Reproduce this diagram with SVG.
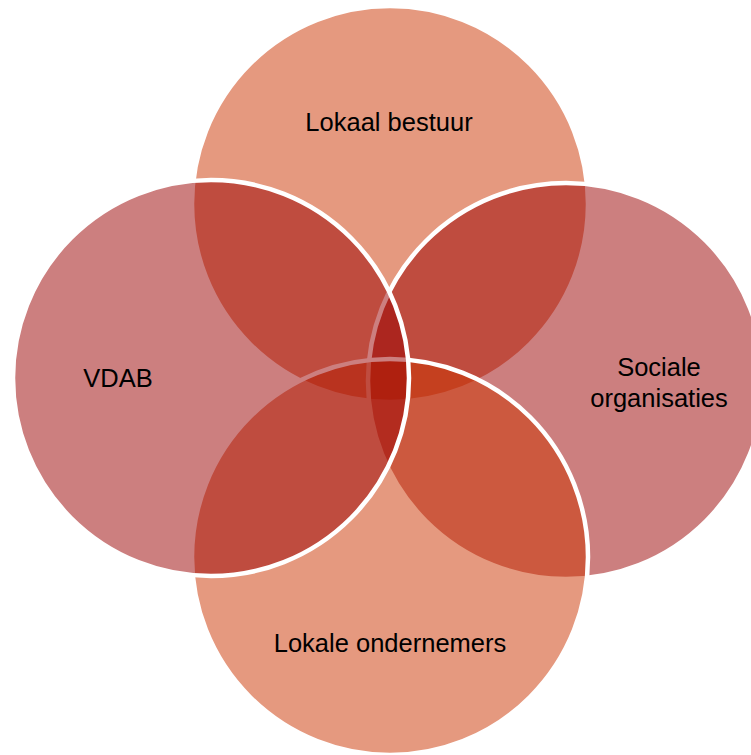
<svg xmlns="http://www.w3.org/2000/svg" width="751" height="755" viewBox="0 0 751 755">
  <style>
    .c { stroke: #ffffff; stroke-width: 4.5; fill-opacity: 0.5; }
    .warm { fill: #cc3300; }
    .deep { fill: #990000; }
    .t { font-family: "Liberation Sans", Arial, sans-serif; font-size: 25.5px; fill: #000000; text-anchor: middle; }
  </style>
  <rect x="0" y="0" width="751" height="755" fill="#ffffff"/>
  <g id="node-lokaal-bestuur">
    <circle class="c warm" cx="390" cy="204" r="198"/>
    <text class="t" x="389" y="131">Lokaal bestuur</text>
  </g>
  <g id="node-sociale-organisaties">
    <circle class="c deep" cx="566" cy="381" r="198"/>
    <text class="t" x="659" y="376">Sociale</text>
    <text class="t" x="659" y="407">organisaties</text>
  </g>
  <g id="node-lokale-ondernemers">
    <circle class="c warm" cx="390" cy="557" r="198"/>
    <text class="t" x="390" y="652">Lokale ondernemers</text>
  </g>
  <g id="node-vdab">
    <circle class="c deep" cx="211" cy="378" r="198"/>
    <text class="t" x="118" y="387">VDAB</text>
  </g>
</svg>
